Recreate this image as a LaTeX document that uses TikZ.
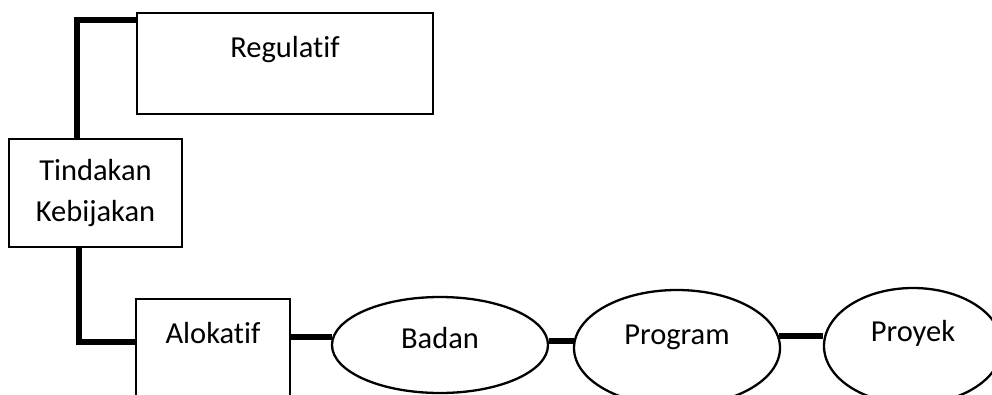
\documentclass[tikz,border=0pt]{standalone}
\usepackage{fontspec}
\setmainfont{Carlito}[RawFeature=-liga]
\usetikzlibrary{shapes.geometric,calc}

\tikzset{
    box/.style = {draw, line width=2.3pt, inner sep=0pt, font=\fontsize{30.5pt}{41pt}\selectfont},
    oval/.style = {box, ellipse, text height=20pt},
    link/.style = {line width=6pt}
}

\begin{document}
\begin{tikzpicture}[x=1pt,y=-1pt]
    \clip (0,0) rectangle (992,394);

    \node[box, anchor=base, minimum width=296pt, text height=44pt, text depth=57pt] (reg) at (285,57) {Regulatif};
    \node[box, align=center, minimum width=173pt, minimum height=108pt] (tind) at (95.5,193) {Tindakan\\Kebijakan};
    \node[box, anchor=base, minimum width=154pt, text height=44pt, text depth=87pt] (alok) at (213,343) {Alokatif};

    \node[oval, text depth=14pt, minimum width=216pt, minimum height=96pt] (badan) at (440,345) {Badan};
    \node[oval, text depth=28pt, minimum width=206pt, minimum height=116pt] (prog) at (677,348) {Program};
    \node[oval, text depth=30pt, minimum width=178pt, minimum height=116pt] (proy) at (913,346) {Proyek};

    \draw[link] ($(tind.north)+(-19,0)$) |- ($(reg.north west)+(0,8)$);
    \draw[link] ($(tind.south)+(-17,0)$) |- ($(alok.north west)+(0,44)$);
    \draw[link] (badan.176 -| alok.east) -- (badan.176);
    \draw[link] (badan.east |- prog.176) -- (prog.176);
    \draw[link] (prog.7) -- (prog.7 -| proy.west);
\end{tikzpicture}
\end{document}
